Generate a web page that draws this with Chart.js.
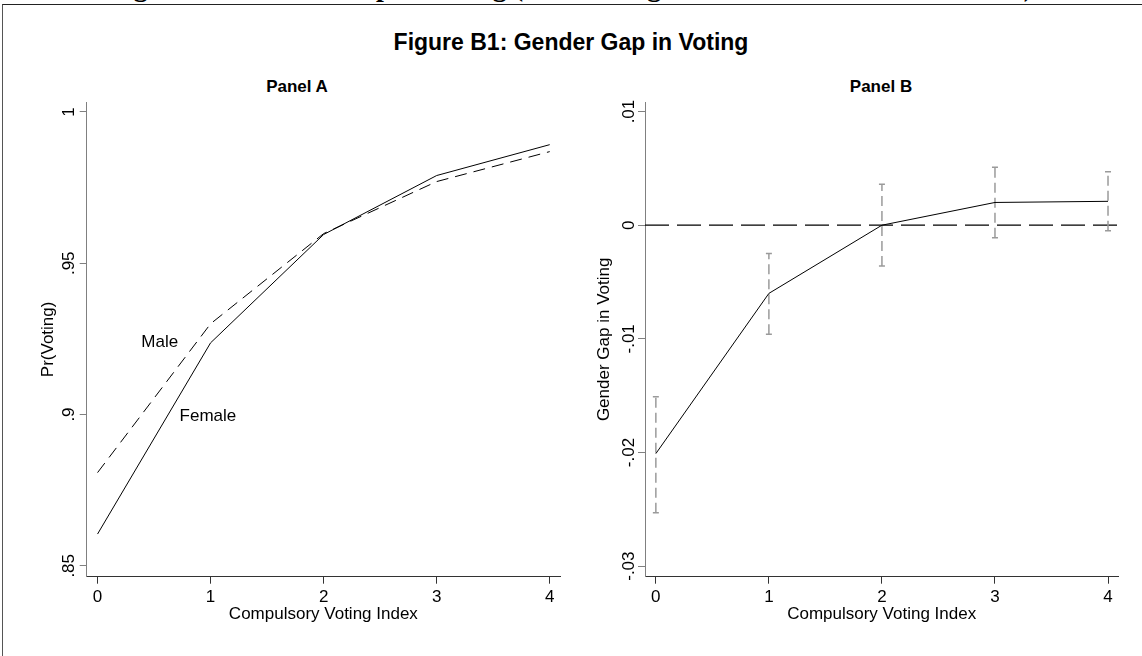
<!DOCTYPE html>
<html>
<head>
<meta charset="utf-8">
<script src="https://cdn.jsdelivr.net/npm/chart.js@4.4.1/dist/chart.umd.min.js"></script>
<style>
  html, body { margin: 0; padding: 0; background: #fff; }
  body { position: relative; width: 1142px; height: 656px; overflow: hidden;
         font-family: "Liberation Sans", Arial, sans-serif; color: #000; }
  #frame { position: absolute; left: 2px; top: 4px; width: 1200px; height: 700px;
           border-top: 1px solid #222; border-left: 1px solid #555; }
  #caption { position: absolute; left: 0; top: -27px; width: 1142px; text-align: center;
             font: bold 28px/28px "Liberation Serif", "Times New Roman", serif; white-space: nowrap; }
  #title { position: absolute; left: 0; top: 29px; width: 1142px; text-align: center;
           font-weight: bold; font-size: 23px; line-height: 26px; }
  .panel-title { position: absolute; top: 77px; width: 200px; text-align: center;
                 font-weight: bold; font-size: 17px; line-height: 20px; }
  canvas { position: absolute; top: 0; }
</style>
</head>
<body>
<div id="caption">Figure B1: Gender Gap in Voting (Controlling for Individual Characteristics)</div>
<div id="frame"></div>
<div id="title">Figure B1: Gender Gap in Voting</div>
<div class="panel-title" style="left:197px">Panel A</div>
<div class="panel-title" style="left:781px">Panel B</div>
<canvas id="panelA" width="571" height="656" style="left:0"></canvas>
<canvas id="panelB" width="571" height="656" style="left:571px"></canvas>
<script>
// Compulsory voting index categories
const cvIndex = [0, 1, 2, 3, 4];

// Panel A: predicted probability of voting by gender
const prMale   = [0.8808, 0.9300, 0.9598, 0.9770, 0.9869];
const prFemale = [0.8605, 0.9237, 0.9595, 0.9790, 0.9892];

// Panel B: gender gap (female - male) with confidence interval
const gap     = [-0.0201, -0.0060, 0.0000, 0.0020, 0.0021];
const gapLow  = [-0.0253, -0.0096, -0.0036, -0.0011, -0.0005];
const gapHigh = [-0.0151, -0.0025, 0.0036, 0.0051, 0.0047];

// Axis ticks and labels
const xTicks = [0, 1, 2, 3, 4];
const yTicksA = [0.85, 0.9, 0.95, 1];
const yTickLabelsA = ['.85', '.9', '.95', '1'];
const yTicksB = [-0.03, -0.02, -0.01, 0, 0.01];
const yTickLabelsB = ['-.03', '-.02', '-.01', '0', '.01'];

// Axis ranges
const xRange = [-0.096, 4.091];
const yRangeA = [0.8464, 1.0033];
const yRangeB = [-0.03093, 0.01084];

// Series labels placed in data coordinates
const seriesLabels = [
  { text: 'Male',   x: 0.55,  y: 0.924 },
  { text: 'Female', x: 0.976, y: 0.8994 }
];

const FONT = '"Liberation Sans", Arial, sans-serif';
const FONT_SIZE = 17;

const pts = (xs, ys) => xs.map((x, i) => ({ x: x, y: ys[i] }));

// Vertical y tick labels, reading bottom to top, centred on each tick
const rotatedYTicks = {
  id: 'rotatedYTicks',
  afterDraw(chart, args, opts) {
    const s = chart.scales.y, ctx = chart.ctx;
    ctx.save();
    ctx.font = FONT_SIZE + 'px ' + FONT;
    ctx.fillStyle = '#000';
    ctx.textAlign = 'center';
    ctx.textBaseline = 'alphabetic';
    s.ticks.forEach((t, i) => {
      const py = s.getPixelForValue(t.value);
      ctx.save();
      ctx.translate(opts.x, py);
      ctx.rotate(-Math.PI / 2);
      ctx.fillText(opts.labels[i], 0, 6);
      ctx.restore();
    });
    ctx.restore();
  }
};

// Text labels attached to the lines
const textLabels = {
  id: 'textLabels',
  afterDatasetsDraw(chart, args, opts) {
    if (!opts.items) return;
    const ctx = chart.ctx, sx = chart.scales.x, sy = chart.scales.y;
    ctx.save();
    ctx.font = FONT_SIZE + 'px ' + FONT;
    ctx.fillStyle = '#000';
    ctx.textAlign = 'center';
    ctx.textBaseline = 'middle';
    opts.items.forEach(it => ctx.fillText(it.text, sx.getPixelForValue(it.x), sy.getPixelForValue(it.y)));
    ctx.restore();
  }
};

function makeOptions(cfg) {
  return {
    responsive: false,
    animation: false,
    events: [],
    devicePixelRatio: 1,
    layout: { padding: { top: 102, left: 0, right: cfg.padRight, bottom: 0 } },
    plugins: {
      legend: { display: false },
      tooltip: { enabled: false },
      rotatedYTicks: { x: cfg.tickLabelX, labels: cfg.yLabels },
      textLabels: { items: cfg.labels }
    },
    scales: {
      x: {
        type: 'linear', min: xRange[0], max: xRange[1],
        afterBuildTicks: s => { s.ticks = xTicks.map(v => ({ value: v })); },
        afterFit: s => { s.height = 79.3; },
        ticks: { font: { family: FONT, size: FONT_SIZE }, color: '#000', padding: 3,
                 maxRotation: 0, minRotation: 0, autoSkip: false,
                 callback: v => String(v) },
        grid: { drawOnChartArea: false, drawTicks: true, tickLength: 7, tickColor: '#333', tickWidth: 1 },
        border: { display: true, color: '#333', width: 1 },
        title: { display: true, text: 'Compulsory Voting Index', color: '#000',
                 font: { family: FONT, size: FONT_SIZE }, padding: { top: 0, bottom: 31 } }
      },
      y: {
        type: 'linear', min: cfg.yRange[0], max: cfg.yRange[1],
        afterBuildTicks: s => { s.ticks = cfg.yTicks.map(v => ({ value: v })); },
        afterFit: s => { s.width = cfg.yWidth; },
        ticks: { display: false },
        grid: { drawOnChartArea: false, drawTicks: true, tickLength: 7, tickColor: '#808080', tickWidth: 1 },
        border: { display: true, color: '#808080', width: 1 },
        title: { display: true, text: cfg.yTitle, color: '#000',
                 font: { family: FONT, size: FONT_SIZE }, padding: { top: cfg.yTitlePad, bottom: 0 } }
      }
    }
  };
}

// Panel A: Pr(Voting) for women and men
new Chart(document.getElementById('panelA'), {
  type: 'line',
  data: {
    datasets: [
      { label: 'Female', data: pts(cvIndex, prFemale), borderColor: '#000', borderWidth: 1,
        pointRadius: 0, tension: 0, fill: false },
      { label: 'Male', data: pts(cvIndex, prMale), borderColor: '#000', borderWidth: 1,
        borderDash: [12, 7], pointRadius: 0, tension: 0, fill: false }
    ]
  },
  options: makeOptions({
    padRight: 11, yWidth: 86.7, tickLabelX: 68, yTitlePad: 38,
    yRange: yRangeA, yTicks: yTicksA, yLabels: yTickLabelsA,
    yTitle: 'Pr(Voting)', labels: seriesLabels
  }),
  plugins: [rotatedYTicks, textLabels]
});

// Confidence interval segments, separated by gaps
const ciData = [];
cvIndex.forEach((x, i) => {
  ciData.push({ x: x, y: gapLow[i] }, { x: x, y: gapHigh[i] }, { x: x, y: null });
});

// Panel B: gender gap with confidence intervals and zero reference line
new Chart(document.getElementById('panelB'), {
  type: 'line',
  data: {
    datasets: [
      { label: 'Gender gap', data: pts(cvIndex, gap), borderColor: '#000', borderWidth: 1,
        pointRadius: 0, tension: 0, fill: false },
      { label: 'CI', data: ciData, borderColor: '#9a9a9a', borderWidth: 1.5, borderDash: [10, 5],
        spanGaps: false, tension: 0, fill: false,
        pointStyle: 'line', pointRadius: 3, pointBorderColor: '#9a9a9a', pointBorderWidth: 1.5 },
      { label: 'Zero', data: [{ x: xRange[0], y: 0 }, { x: xRange[1], y: 0 }],
        borderColor: '#000', borderWidth: 1.3, borderDash: [24, 8], pointRadius: 0, fill: false }
    ]
  },
  options: makeOptions({
    padRight: 23.7, yWidth: 74, tickLabelX: 57, yTitlePad: 23,
    yRange: yRangeB, yTicks: yTicksB, yLabels: yTickLabelsB,
    yTitle: 'Gender Gap in Voting', labels: null
  }),
  plugins: [rotatedYTicks, textLabels]
});
</script>
</body>
</html>
